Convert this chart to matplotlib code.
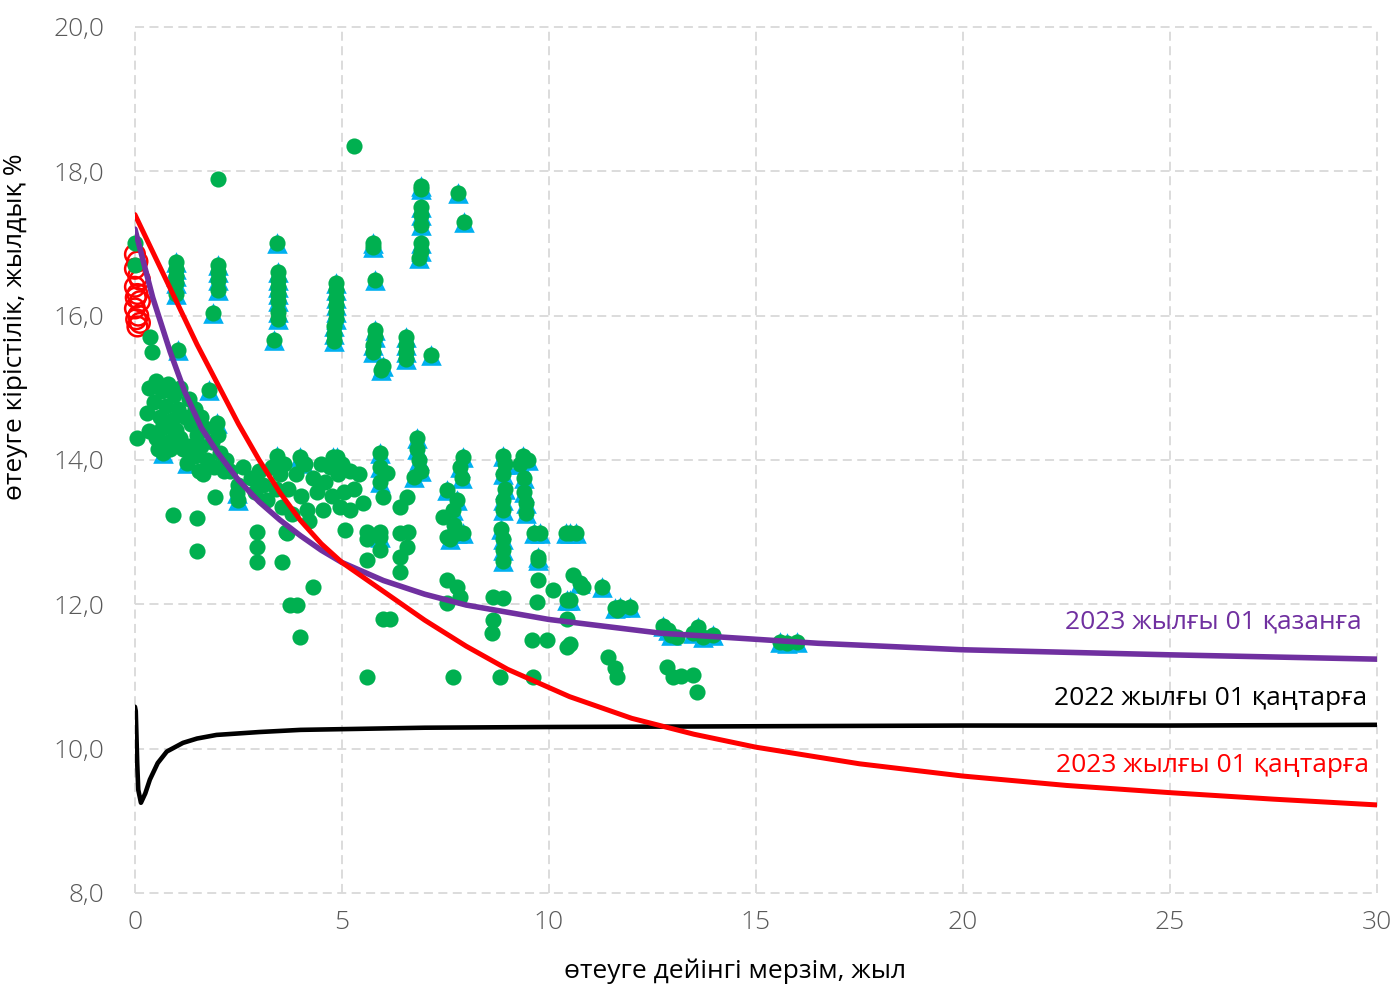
import numpy as np
import matplotlib
matplotlib.use("Agg")
import matplotlib.pyplot as plt
from matplotlib.ticker import FuncFormatter

plt.rcParams['font.family'] = ['Open Sans', 'DejaVu Sans']

# bonds with triangle markers (green dot on top)
tri_x = [1.0, 1.0, 1.0, 1.0, 1.0, 1.05, 1.0, 0.68, 1.26,
         2.0, 2.0, 2.0, 2.0, 1.88, 1.8, 1.98, 2.46, 2.49,
         3.42, 3.45, 3.45, 3.45, 3.45, 3.45, 3.45, 3.45, 3.35, 3.43, 3.99, 4.06,
         4.85, 4.85, 4.85, 4.85, 4.85, 4.85, 4.8, 4.8, 4.8, 4.79, 4.87,
         5.75, 5.75, 5.8, 5.8, 5.8, 5.75, 5.75, 6.0, 5.95,
         5.92, 5.92, 5.92, 5.92,
         6.55, 6.55, 6.55, 6.55, 7.15,
         6.9, 6.9, 6.9, 6.9, 6.9, 6.9, 6.9, 6.85,
         6.81, 6.81, 6.85, 6.9, 6.75,
         7.8, 7.95,
         7.92, 7.85, 7.9, 7.78, 7.68, 7.7, 7.78, 7.6, 7.92, 7.53,
         8.89, 8.95, 8.9, 8.95, 8.9, 8.9, 8.85, 8.9, 8.9, 8.9,
         9.3, 9.37, 9.5, 9.4, 9.4, 9.45, 9.45,
         9.78, 9.65, 9.73, 9.73,
         10.4, 10.5, 10.65, 10.43, 10.5, 10.75, 11.28, 11.71, 11.96, 11.6,
         12.75, 12.87, 12.95, 13.48, 13.6, 13.72, 13.96,
         15.58, 15.75, 15.99]
tri_y = [16.3, 16.45, 16.55, 16.65, 16.75, 15.52, 14.42, 14.1, 13.96,
         16.35, 16.5, 16.6, 16.7, 16.04, 14.97, 14.51, 13.54, 13.45,
         17.0, 16.6, 16.5, 16.4, 16.3, 16.2, 16.05, 15.95, 15.66, 14.05, 14.04, 13.96,
         16.45, 16.35, 16.25, 16.15, 16.05, 15.95, 15.85, 15.75, 15.65, 14.04, 14.04,
         17.0, 16.95, 16.5, 15.8, 15.7, 15.6, 15.5, 15.3, 15.25,
         14.1, 13.9, 13.7, 12.93,
         15.7, 15.6, 15.5, 15.4, 15.45,
         17.8, 17.75, 17.5, 17.4, 17.25, 17.0, 16.9, 16.8,
         14.3, 14.15, 14.0, 13.85, 13.76,
         17.7, 17.3,
         14.04, 13.9, 13.75, 13.44, 13.31, 13.1, 12.99, 12.9, 12.99, 13.58,
         14.05, 13.95, 13.8, 13.6, 13.45, 13.3, 13.05, 12.9, 12.75, 12.6,
         13.95, 14.05, 14.0, 13.75, 13.55, 13.4, 13.27,
         12.99, 12.99, 12.66, 12.61,
         12.99, 12.99, 12.99, 12.06, 12.06, 12.3, 12.24, 11.96, 11.96, 11.95,
         11.7, 11.64, 11.58, 11.6, 11.68, 11.55, 11.58,
         11.48, 11.46, 11.48]

# bonds with green dot only
dot_x = [0.0, 0.0, 0.05, 0.36, 0.41, 2.0, 5.3,
         0.35, 0.5, 0.65, 0.8, 0.95, 1.1, 0.3, 0.45, 0.6, 0.75, 0.9, 1.05, 1.2,
         0.35, 0.5, 0.65, 0.8, 0.95, 1.1, 0.55, 0.85, 1.15,
         1.3, 1.45, 1.35, 1.5, 1.6, 1.3, 1.45, 1.6, 1.7, 1.75, 1.55, 1.85, 1.9,
         2.05, 2.15, 1.65, 2.0,
         0.92, 1.5, 1.5, 1.93,
         2.2, 2.3, 2.5, 2.6, 2.8, 2.9, 3.0, 3.1, 3.2, 3.3, 3.4, 3.5, 3.55, 3.6,
         3.7, 3.8, 3.9, 4.0, 4.1, 4.15, 4.3, 4.4, 4.5, 4.55, 4.6, 4.7, 4.75,
         4.9, 5.0, 5.05, 5.2, 5.3, 5.4, 5.5, 3.65, 4.2, 4.95,
         2.95, 2.95, 2.95, 3.55, 3.67, 4.3, 3.74, 3.91, 3.99,
         5.07, 5.19, 5.6, 5.6, 5.6, 5.92, 5.92, 6.0, 6.15, 5.6,
         6.09, 5.99, 6.57, 6.4, 6.4, 6.57, 6.4, 6.4, 6.6,
         7.44, 7.53, 7.53, 7.78, 7.85, 7.53, 7.68,
         8.65, 8.89, 8.65, 8.62, 8.82,
         9.73, 10.1, 9.71, 9.59, 9.95, 9.61,
         10.58, 10.82, 10.43, 10.43, 10.5,
         11.43, 11.64, 11.59, 11.64,
         12.85, 13.0, 13.2, 13.48, 13.57, 13.09]
dot_y = [17.0, 16.7, 14.3, 15.7, 15.5, 17.9, 18.35,
         15.0, 15.1, 14.95, 15.05, 14.9, 15.0, 14.65, 14.8, 14.6, 14.75, 14.55, 14.7, 14.6,
         14.4, 14.3, 14.45, 14.25, 14.4, 14.3, 14.15, 14.15, 14.15,
         14.85, 14.7, 14.5, 14.35, 14.6, 14.2, 14.05, 14.2, 14.45, 14.0, 13.85, 14.25, 13.9,
         14.1, 13.85, 13.8, 14.35,
         13.24, 13.2, 12.74, 13.49,
         14.0, 13.85, 13.65, 13.9, 13.75, 13.55, 13.85, 13.65, 13.45, 13.9, 13.6, 13.8, 13.35, 13.95,
         13.6, 13.25, 13.8, 13.5, 13.95, 13.3, 13.75, 13.55, 13.95, 13.3, 13.7, 13.9, 13.5,
         13.8, 13.95, 13.55, 13.85, 13.6, 13.8, 13.4, 13.0, 13.15, 13.35,
         13.0, 12.8, 12.59, 12.59, 12.99, 12.24, 11.99, 11.99, 11.55,
         13.03, 13.31, 13.0, 12.61, 10.99, 12.75, 13.0, 11.8, 11.8, 12.9,
         13.82, 13.49, 13.49, 13.35, 12.99, 12.8, 12.66, 12.45, 13.0,
         13.21, 12.93, 12.34, 12.24, 12.1, 12.02, 10.99,
         12.1, 12.09, 11.78, 11.6, 10.99,
         12.34, 12.2, 12.03, 11.5, 11.5, 10.99,
         12.4, 12.24, 11.8, 11.41, 11.45,
         11.27, 10.99, 11.12, 11.92,
         11.13, 10.99, 11.0, 11.02, 10.79, 11.55]

# short-term bonds (open red circles)
red_x = [0.0, 0.06, 0.0, 0.08, 0.12, 0.0, 0.06, 0.12, 0.0, 0.08, 0.03, 0.12, 0.06, 0.02]
red_y = [16.85, 16.75, 16.65, 16.55, 16.5, 16.4, 16.3, 16.2, 16.1, 16.0, 15.95, 15.9, 15.85, 16.25]

# yield curves
curve_2022_x = [0.0, 0.02, 0.055, 0.08, 0.145, 0.25, 0.36, 0.55, 0.77, 1.16, 1.5, 1.97, 3.0, 4.0,
                5.0, 7.0, 10.0, 15.0, 20.0, 25.0, 30.0]
curve_2022_y = [10.58, 10.52, 9.8, 9.43, 9.25, 9.38, 9.57, 9.8, 9.96, 10.08, 10.14, 10.19, 10.23, 10.26,
                10.27, 10.29, 10.3, 10.31, 10.32, 10.32, 10.33]

curve_jan23_x = [0.0, 0.25, 0.5, 1.0, 1.5, 2.0, 2.5, 3.0, 3.5, 4.0, 4.5, 5.0, 6.0, 7.0, 8.0, 9.0,
                 10.5, 12.0, 13.5, 15.0, 17.5, 20.0, 22.5, 25.0, 27.5, 30.0]
curve_jan23_y = [17.4, 17.1, 16.8, 16.2, 15.6, 15.05, 14.5, 14.0, 13.55, 13.16, 12.84, 12.58, 12.18,
                 11.78, 11.42, 11.1, 10.72, 10.42, 10.2, 10.02, 9.79, 9.62, 9.49, 9.39, 9.3, 9.22]

curve_oct23_x = [0.0, 0.43, 0.85, 1.2, 1.6, 2.0, 2.5, 3.0, 3.5, 4.0, 4.5, 5.0, 6.0, 7.0, 8.0,
                 10.0, 12.7, 16.5, 20.0, 25.0, 30.0]
curve_oct23_y = [17.2, 16.25, 15.5, 14.95, 14.45, 14.1, 13.72, 13.42, 13.17, 12.95, 12.75, 12.58,
                 12.33, 12.14, 11.99, 11.79, 11.6, 11.46, 11.37, 11.3, 11.24]

fig = plt.figure(figsize=(13.94, 9.89), dpi=100)
ax = fig.add_axes([0.0968, 0.0971, 0.891, 0.8756])

ax.scatter(red_x, red_y, s=200, facecolors='none', edgecolors='#FF0000', linewidths=1.8, zorder=3.5,
           clip_on=False)
ax.scatter(tri_x, tri_y, s=220, marker='^', color='#00B0F0', linewidths=0, zorder=4, clip_on=False)
ax.scatter(tri_x + dot_x, tri_y + dot_y, s=135, marker='o', color='#00B050', linewidths=0, zorder=5,
           clip_on=False)

ax.plot(curve_2022_x, curve_2022_y, color='black', lw=3.3, zorder=6, solid_capstyle='round')
ax.plot(curve_oct23_x, curve_oct23_y, color='#7030A0', lw=4, zorder=6, solid_capstyle='round')
ax.plot(curve_jan23_x, curve_jan23_y, color='#FF0000', lw=3.6, zorder=7, solid_capstyle='round')

ax.text(29.64, 11.76, '2023 жылғы 01 қазанға', color='#7030A0', fontsize=19, ha='right', va='center')
ax.text(29.76, 10.69, '2022 жылғы 01 қаңтарға', color='black', fontsize=19, ha='right', va='center')
ax.text(29.8, 9.77, '2023 жылғы 01 қаңтарға', color='#FF0000', fontsize=19, ha='right', va='center')

ax.set_xlim(0, 30)
ax.set_ylim(8, 20)
ax.set_xticks(np.arange(0, 31, 5))
ax.set_yticks(np.arange(8, 21, 2))
ax.yaxis.set_major_formatter(FuncFormatter(lambda v, p: f'{v:.1f}'.replace('.', ',')))
ax.tick_params(length=0, labelsize=19, labelcolor='#595959')
for lbl in ax.get_xticklabels() + ax.get_yticklabels():
    lbl.set_fontweight('light')
ax.tick_params(axis='y', pad=22)
ax.tick_params(axis='x', pad=12)

for s in ax.spines.values():
    s.set_visible(False)
ax.grid(True, color='#D9D9D9', linestyle=(0, (5, 3)), lw=1.3)
for gl in ax.get_xgridlines() + ax.get_ygridlines():
    gl.set_clip_on(False)
ax.set_axisbelow(True)

ax.set_xlabel('өтеуге дейінгі мерзім, жыл', fontsize=19, color='black')
ax.xaxis.set_label_coords(0.483, -0.076)
ax.set_ylabel('өтеуге кірістілік, жылдық %', fontsize=19, color='black')
ax.yaxis.set_label_coords(-0.086, 0.654)

fig.savefig('out.png', dpi=100)
